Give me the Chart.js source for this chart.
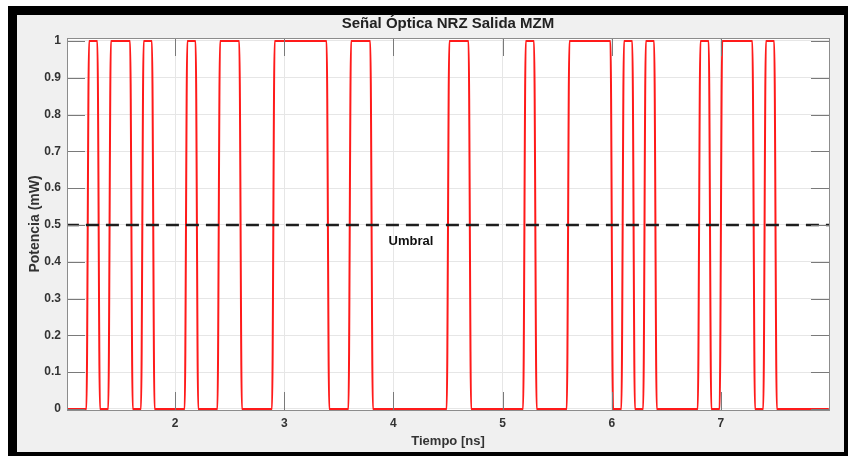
<!DOCTYPE html>
<html>
<head>
<meta charset="utf-8">
<script src="https://cdn.jsdelivr.net/npm/chart.js@4.4.1/dist/chart.umd.min.js"></script>
<style>
  html, body { margin: 0; padding: 0; background: #fff; }
  canvas { display: block; }
</style>
</head>
<body>
<canvas id="mzmChart" width="848" height="456"></canvas>
<script>
// NRZ bits, one per 0.1 ns slot starting at 1.0 ns
const bitStart = 1.0;
const bitPeriod = 0.1;
const bits = [
  0, 0, 1, 0, 1, 1, 0, 1, 0, 0,   // 1.0 - 1.9
  0, 1, 0, 0, 1, 1, 0, 0, 0, 1,   // 2.0 - 2.9
  1, 1, 1, 1, 0, 0, 1, 1, 0, 0,   // 3.0 - 3.9
  0, 0, 0, 0, 0, 1, 1, 0, 0, 0,   // 4.0 - 4.9
  0, 0, 1, 0, 0, 0, 1, 1, 1, 1,   // 5.0 - 5.9
  0, 1, 0, 1, 0, 0, 0, 0, 1, 0,   // 6.0 - 6.9
  1, 1, 1, 0, 1, 0, 0, 0, 0, 0    // 7.0 - 7.9
];
const umbral = 0.5;
const umbralLabel = "Umbral";
const titulo = "Señal Óptica NRZ Salida MZM";
const xTicks = [2, 3, 4, 5, 6, 7];
const yTicks = [0, 0.1, 0.2, 0.3, 0.4, 0.5, 0.6, 0.7, 0.8, 0.9, 1];

const FONT = "'Liberation Sans', Arial, sans-serif";
const edge = 0.012; // half of the rise/fall time, ns

function buildSignal() {
  const pts = [];
  bits.forEach((b, i) => {
    const t0 = bitStart + i * bitPeriod;
    pts.push({ x: i === 0 ? t0 : t0 + edge, y: b });
    pts.push({ x: t0 + bitPeriod - edge, y: b });
  });
  return pts;
}

// frame, title, inner ticks, box and label
const decor = {
  id: "decor",
  beforeDraw(chart) {
    const { ctx, width, height } = chart;
    ctx.save();
    ctx.fillStyle = "#ffffff";
    ctx.fillRect(0, 0, width, height);
    ctx.fillStyle = "#000000";
    ctx.fillRect(8, 6, width - 8, height - 6);
    ctx.fillStyle = "#f0f0f0";
    ctx.fillRect(17, 15, width - 17 - 4, height - 15 - 4);
    const a = chart.chartArea;
    ctx.fillStyle = "#ffffff";
    ctx.fillRect(a.left, a.top, a.right - a.left, a.bottom - a.top);
    // title centred over the axes box, like MATLAB
    ctx.font = "bold 15px " + FONT;
    ctx.fillStyle = "#222";
    ctx.textAlign = "center";
    ctx.textBaseline = "middle";
    ctx.fillText(titulo, (a.left + a.right) / 2, 23.5);
    ctx.restore();
  },
  afterDatasetsDraw(chart) {
    const { ctx, scales } = chart;
    ctx.save();
    ctx.font = "bold 13px " + FONT;
    ctx.fillStyle = "#111";
    ctx.textAlign = "center";
    ctx.textBaseline = "middle";
    ctx.fillText(umbralLabel, scales.x.getPixelForValue(4.16), scales.y.getPixelForValue(umbral - 0.045));
    ctx.restore();
  },
  afterDraw(chart) {
    const { ctx, scales } = chart;
    const a = chart.chartArea;
    const len = 18;
    ctx.save();
    ctx.strokeStyle = "#7a7a7a";
    ctx.lineWidth = 1;
    ctx.beginPath();
    xTicks.forEach(v => {
      const px = Math.round(scales.x.getPixelForValue(v)) + 0.5;
      ctx.moveTo(px, a.bottom); ctx.lineTo(px, a.bottom - len);
      ctx.moveTo(px, a.top); ctx.lineTo(px, a.top + len);
    });
    yTicks.forEach(v => {
      const py = Math.round(scales.y.getPixelForValue(v)) + 0.5;
      ctx.moveTo(a.left, py); ctx.lineTo(a.left + len, py);
      ctx.moveTo(a.right, py); ctx.lineTo(a.right - len, py);
    });
    ctx.stroke();
    ctx.strokeStyle = "#8c8c8c";
    ctx.strokeRect(Math.round(a.left) + 0.5, Math.round(a.top) + 0.5,
      Math.round(a.right - a.left), Math.round(a.bottom - a.top));
    ctx.restore();
  }
};

const ctx = document.getElementById("mzmChart");

new Chart(ctx, {
  type: "line",
  data: {
    datasets: [
      {
        label: umbralLabel,
        data: [{ x: 1.0, y: umbral }, { x: 8.0, y: umbral }],
        borderColor: "#1e1e1e",
        borderWidth: 2.5,
        borderDash: [13, 7],
        pointRadius: 0
      },
      {
        label: "MZM",
        data: buildSignal(),
        borderColor: "#ff1a1a",
        borderWidth: 2,
        pointRadius: 0,
        cubicInterpolationMode: "monotone"
      }
    ]
  },
  options: {
    responsive: false,
    animation: false,
    layout: { padding: { left: 0, top: 38, right: 19, bottom: 0 } },
    plugins: {
      legend: { display: false },
      tooltip: { enabled: false },
      title: { display: false }
    },
    scales: {
      x: {
        type: "linear",
        min: 1.01,
        max: 7.99,
        afterFit: s => { s.height = 46; },
        ticks: {
          stepSize: 1,
          includeBounds: false,
          color: "#333",
          padding: 6,
          font: { family: FONT, size: 12, weight: "bold" }
        },
        grid: { color: "#e6e6e6", drawTicks: false },
        border: { display: true, color: "#8c8c8c" },
        title: {
          display: true,
          text: "Tiempo [ns]",
          color: "#333",
          font: { family: FONT, size: 13, weight: "bold", lineHeight: 1.2 },
          padding: { top: 0, bottom: 7 }
        }
      },
      y: {
        min: -0.003,
        max: 1.008,
        afterFit: s => { s.width = 67; },
        ticks: {
          stepSize: 0.1,
          includeBounds: false,
          color: "#333",
          padding: 6,
          font: { family: FONT, size: 12, weight: "bold" },
          callback: v => String(Number(v.toFixed(1)))
        },
        grid: { color: "#e6e6e6", drawTicks: false },
        border: { display: true, color: "#8c8c8c" },
        title: {
          display: true,
          text: "Potencia (mW)",
          color: "#333",
          font: { family: FONT, size: 14, weight: "bold", lineHeight: 1.2 },
          padding: { top: 27, bottom: 0 }
        }
      }
    }
  },
  plugins: [decor]
});
</script>
</body>
</html>
